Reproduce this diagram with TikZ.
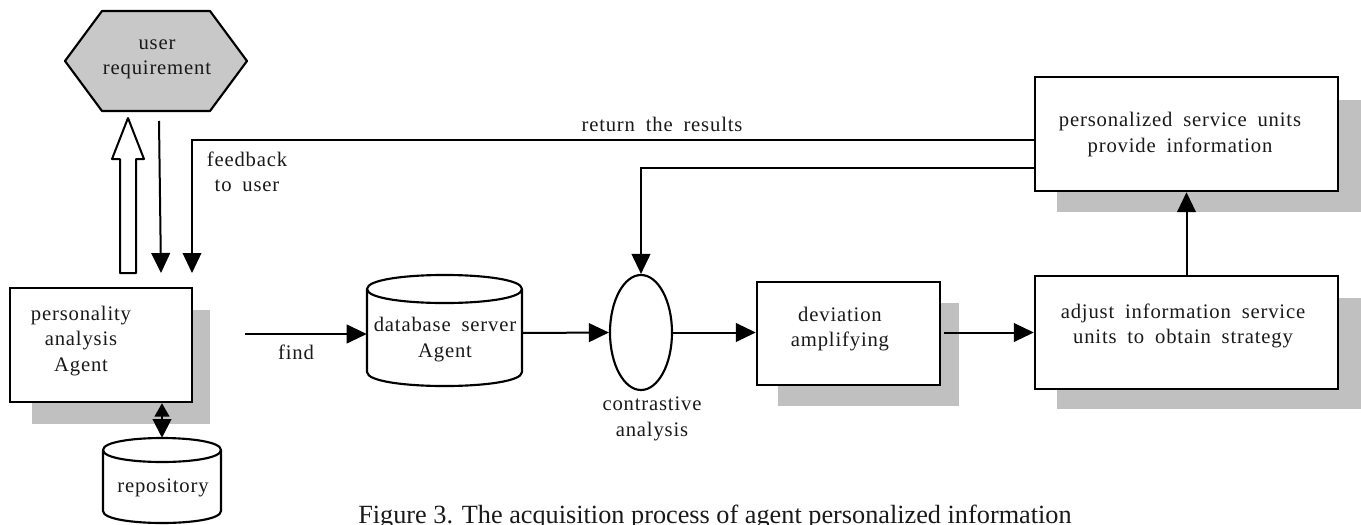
\documentclass[tikz,border=0pt]{standalone}
\usepackage{fontspec}
\setmainfont{Liberation Serif}
\newfontfamily\lblfont{Liberation Serif}[LetterSpace=4,WordSpace=1.8]
\usetikzlibrary{arrows.meta,shapes.geometric}
\definecolor{shade}{RGB}{192,192,192}
\definecolor{hexfill}{RGB}{200,200,200}
\tikzset{
  lbl/.style={font=\lblfont\fontsize{15.5}{19}\selectfont, align=center, inner sep=0pt, text=black!90},
  conn/.style={line width=1.5pt},
  arr/.style={line width=1.5pt, -{Triangle[length=15pt,width=14pt]}},
  dblarr/.style={line width=1.5pt, {Triangle[length=10pt,width=11pt]}-{Triangle[length=14pt,width=14pt]}},
  boxnode/.style={draw, line width=1.8pt, fill=white, rectangle, inner sep=0pt},
  ghost/.style={rectangle, inner sep=0pt},
  shadowfill/.style={fill=shade, draw=none},
  outline/.style={draw, line width=1.6pt, line join=round},
}
\begin{document}
\begin{tikzpicture}[x=0.75pt,y=-0.75pt]
\useasboundingbox (0,0) rectangle (1361,525);

% ---------- shadows ----------
\path[shadowfill] (32,310) rectangle (210,424);
\path[shadowfill] (778,303) rectangle (959,406);
\path[shadowfill] (1057,100) rectangle (1361,212);
\path[shadowfill] (1057,298) rectangle (1361,409);

% ---------- user requirement (hexagon) ----------
\path[outline, fill=hexfill] (65,61) -- (102,11) -- (210,11) -- (247,61) -- (210,111) -- (102,111) -- cycle;
\node[lbl] (ur) at (157,59) {user\\requirement};

% ---------- boxes ----------
\node[boxnode, minimum width=136.5pt, minimum height=85.5pt] (pers) at (101,345) {};
\node[lbl] (perst) at (81,341) {personality\\analysis\\Agent};

\node[boxnode, minimum width=137.25pt, minimum height=77.25pt] (dev) at (848.5,333.5) {};
\node[lbl] (devt) at (840,329) {deviation\\amplifying};

\node[boxnode, minimum width=227.25pt, minimum height=85.5pt] (psu) at (1186.5,134) {};
\node[lbl] (psut) at (1180,134.5) {personalized service units\\provide information};

\node[boxnode, minimum width=227.25pt, minimum height=84.75pt] (adj) at (1186.5,332.5) {};
\node[lbl] (adjt) at (1183,326) {adjust information service\\units to obtain strategy};

% ---------- database cylinder ----------
\node[ghost, minimum width=116.25pt, minimum height=83.25pt] (db) at (444.5,333) {};
\path[outline, fill=white] (367,289) -- (367,372) .. controls (367,390.7) and (522,390.7) .. (522,372) -- (522,289);
\path[outline] (367,289) .. controls (367,270.3) and (522,270.3) .. (522,289) .. controls (522,307.7) and (367,307.7) .. (367,289) -- cycle;
\node[lbl] (dbt) at (445,339.5) {database server\\Agent};

% ---------- repository cylinder ----------
\node[ghost, minimum width=88.5pt, minimum height=63.75pt] (repo) at (162,480.5) {};
\path[outline, fill=white] (103,450) -- (103,511) .. controls (103,527) and (221,527) .. (221,511) -- (221,450);
\path[outline] (103,450) .. controls (103,434) and (221,434) .. (221,450) .. controls (221,466) and (103,466) .. (103,450) -- cycle;
\node[lbl] (repot) at (163,488) {repository};

% ---------- contrastive analysis ellipse ----------
\node[draw, ellipse, line width=1.6pt, minimum width=46.5pt, minimum height=86.25pt, inner sep=0pt] (ell) at (641,332.5) {};
\node[lbl] (ellt) at (652,419) {contrastive\\analysis};

% ---------- connectors ----------
% hollow arrow up to user requirement
\path[outline, fill=white, line width=1.5pt] (120,273) -- (120,159) -- (112,159) -- (128,118) -- (144,159) -- (136,159) -- (136,273) -- cycle;
% requirement down
\coordinate (d1s) at (159,121);
\coordinate (d1e) at (161,273);
\draw[arr] (d1s) -- (d1e);
% feedback to user
\coordinate (fbturn) at (192,140);
\coordinate (fbend) at (192,273);
\draw[arr, line width=1.1pt] (psu.west |- fbturn) -- (fbturn) -- (fbend);
\node[lbl] (rtr) at (662,124) {return the results};
\node[lbl] (fbt) at (247,172) {feedback\\to user};
% result back to contrastive analysis
\coordinate (ct) at (641,168);
\draw[arr] (psu.west |- ct) -- (ct) -- (ell.north);
% find
\coordinate (fs) at (245,334);
\draw[arr] (fs) -- (db.west |- fs);
\node[lbl] (findt) at (296,352) {find};
% database -> contrastive
\draw[arr] (db.east) -- (ell.west);
% contrastive -> deviation
\draw[arr] (ell.east) -- (dev.west |- ell.east);
% deviation -> adjust
\draw[arr, shorten <=2pt] (dev.east |- adj.west) -- (adj.west);
% adjust -> personalized service
\draw[arr] (adj.north) -- (psu.south);
% personality <-> repository
\draw[dblarr] (pers.south -| repo.north) -- (repo.north);

% ---------- caption ----------
\node[anchor=base west, inner sep=0pt, font=\fontsize{19.7}{24}\selectfont, text=black!90] (cap) at (358,523) {Figure 3. The acquisition process of agent personalized information};
\end{tikzpicture}
\end{document}
